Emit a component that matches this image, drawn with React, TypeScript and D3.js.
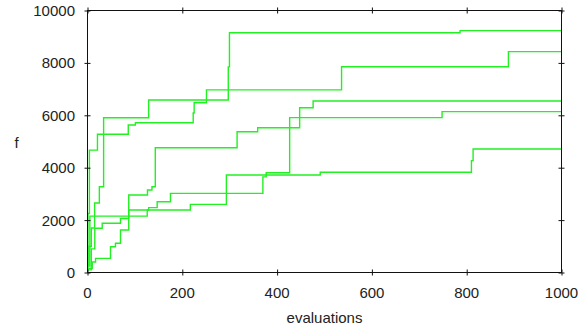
import React, { useRef, useEffect } from 'react';
import * as d3 from 'd3';

// step series: [evaluations, f]
const runA: [number, number][] = [[0, 300], [3, 1000], [8, 1700], [15, 2650], [25, 3275], [34, 5905], [129, 6584], [297, 7850], [299.5, 9153], [786, 9230], [1000, 9230]];
const runB: [number, number][] = [[0, 200], [1, 2250], [4, 4670], [21, 5275], [86, 5630], [101, 5718], [223, 6090], [225, 6480], [251, 6970], [536, 7855], [888, 8430], [1000, 8430]];
const runC: [number, number][] = [[0, 150], [10, 400], [17, 540], [48.5, 985], [59, 1115], [69.6, 1620], [87, 2960], [126.5, 3150], [136, 3275], [143, 4760], [315.6, 5375], [359, 5527], [447.6, 6290], [476, 6545], [1000, 6545]];
const runD: [number, number][] = [[0, 100], [8, 900], [15.4, 1687], [31, 1878], [69.6, 2060], [87, 2385], [129, 2475], [147, 2700], [175, 3020], [370, 3650], [377, 3810], [426.5, 5910], [748, 6140], [1000, 6140]];
const runE: [number, number][] = [[0, 250], [5, 2150], [126, 2385], [217, 2600], [293, 3720], [491, 3825], [810, 4270], [813.5, 4714], [1000, 4714]];

const xTicks = [0, 200, 400, 600, 800, 1000];
const yTicks = [0, 2000, 4000, 6000, 8000, 10000];

const runs = [runA, runB, runC, runD, runE];

const App = () => {
    const svgRef = useRef<SVGSVGElement>(null);
    const width = 587;
    const height = 329;

    useEffect(() => {
        const svg = d3.select(svgRef.current);
        svg.selectAll("*").remove();

        const left = 87.5, right = 561.5, top = 10.5, bottom = 272.5;

        const x = d3.scaleLinear().domain([0, 1000]).range([left, right]);
        const y = d3.scaleLinear().domain([0, 10000]).range([bottom, top]);

        const font = "'Liberation Sans', Arial, sans-serif";

        // data lines
        const line = d3.line<[number, number]>()
            .x(d => x(d[0]))
            .y(d => y(d[1]))
            .curve(d3.curveStepAfter);

        runs.forEach(r => {
            svg.append("path")
                .datum(r)
                .attr("fill", "none")
                .attr("stroke", "#22f022")
                .attr("stroke-width", 1.4)
                .attr("d", line);
        });

        // frame
        const axisColor = "#111";
        const styleAxis = (g: any, cross: "x" | "y") => {
            g.select(".domain").remove();
            g.selectAll(".tick text").remove();
            g.selectAll(".tick line")
                .attr("stroke", axisColor)
                .attr(cross === "x" ? "x1" : "y1", -3)
                .attr(cross === "x" ? "x2" : "y2", 3);
        };

        svg.append("g").attr("transform", `translate(${left},0)`)
            .call(d3.axisLeft(y).tickValues(yTicks))
            .call(g => styleAxis(g, "x"));
        svg.append("g").attr("transform", `translate(${right},0)`)
            .call(d3.axisRight(y).tickValues(yTicks))
            .call(g => styleAxis(g, "x"));
        svg.append("g").attr("transform", `translate(0,${bottom})`)
            .call(d3.axisBottom(x).tickValues(xTicks))
            .call(g => styleAxis(g, "y"));
        svg.append("g").attr("transform", `translate(0,${top})`)
            .call(d3.axisTop(x).tickValues(xTicks))
            .call(g => styleAxis(g, "y"));

        svg.append("rect")
            .attr("x", left).attr("y", top)
            .attr("width", right - left).attr("height", bottom - top)
            .attr("fill", "none")
            .attr("stroke", axisColor)
            .attr("stroke-width", 1);

        // tick labels
        svg.append("g").selectAll("text")
            .data(yTicks)
            .enter()
            .append("text")
            .attr("x", 75)
            .attr("y", d => y(d) + 5.5)
            .attr("text-anchor", "end")
            .attr("font-family", font)
            .attr("font-size", "15px")
            .attr("fill", "#222")
            .text(d => d);

        svg.append("g").selectAll("text")
            .data(xTicks)
            .enter()
            .append("text")
            .attr("x", d => x(d))
            .attr("y", bottom + 25)
            .attr("text-anchor", "middle")
            .attr("font-family", font)
            .attr("font-size", "15px")
            .attr("fill", "#222")
            .text(d => d);

        // axis titles
        svg.append("text")
            .attr("x", (left + right) / 2)
            .attr("y", 323)
            .attr("text-anchor", "middle")
            .attr("font-family", font)
            .attr("font-size", "15px")
            .attr("fill", "#222")
            .text("evaluations");

        svg.append("text")
            .attr("x", 16.5)
            .attr("y", 148)
            .attr("text-anchor", "middle")
            .attr("font-family", font)
            .attr("font-size", "15px")
            .attr("fill", "#222")
            .text("f");
    }, []);

    return (
        <svg ref={svgRef} width={width} height={height}
            style={{ position: "fixed", left: 0, top: 0, background: "#fff" }} />
    );
};

export default App;
